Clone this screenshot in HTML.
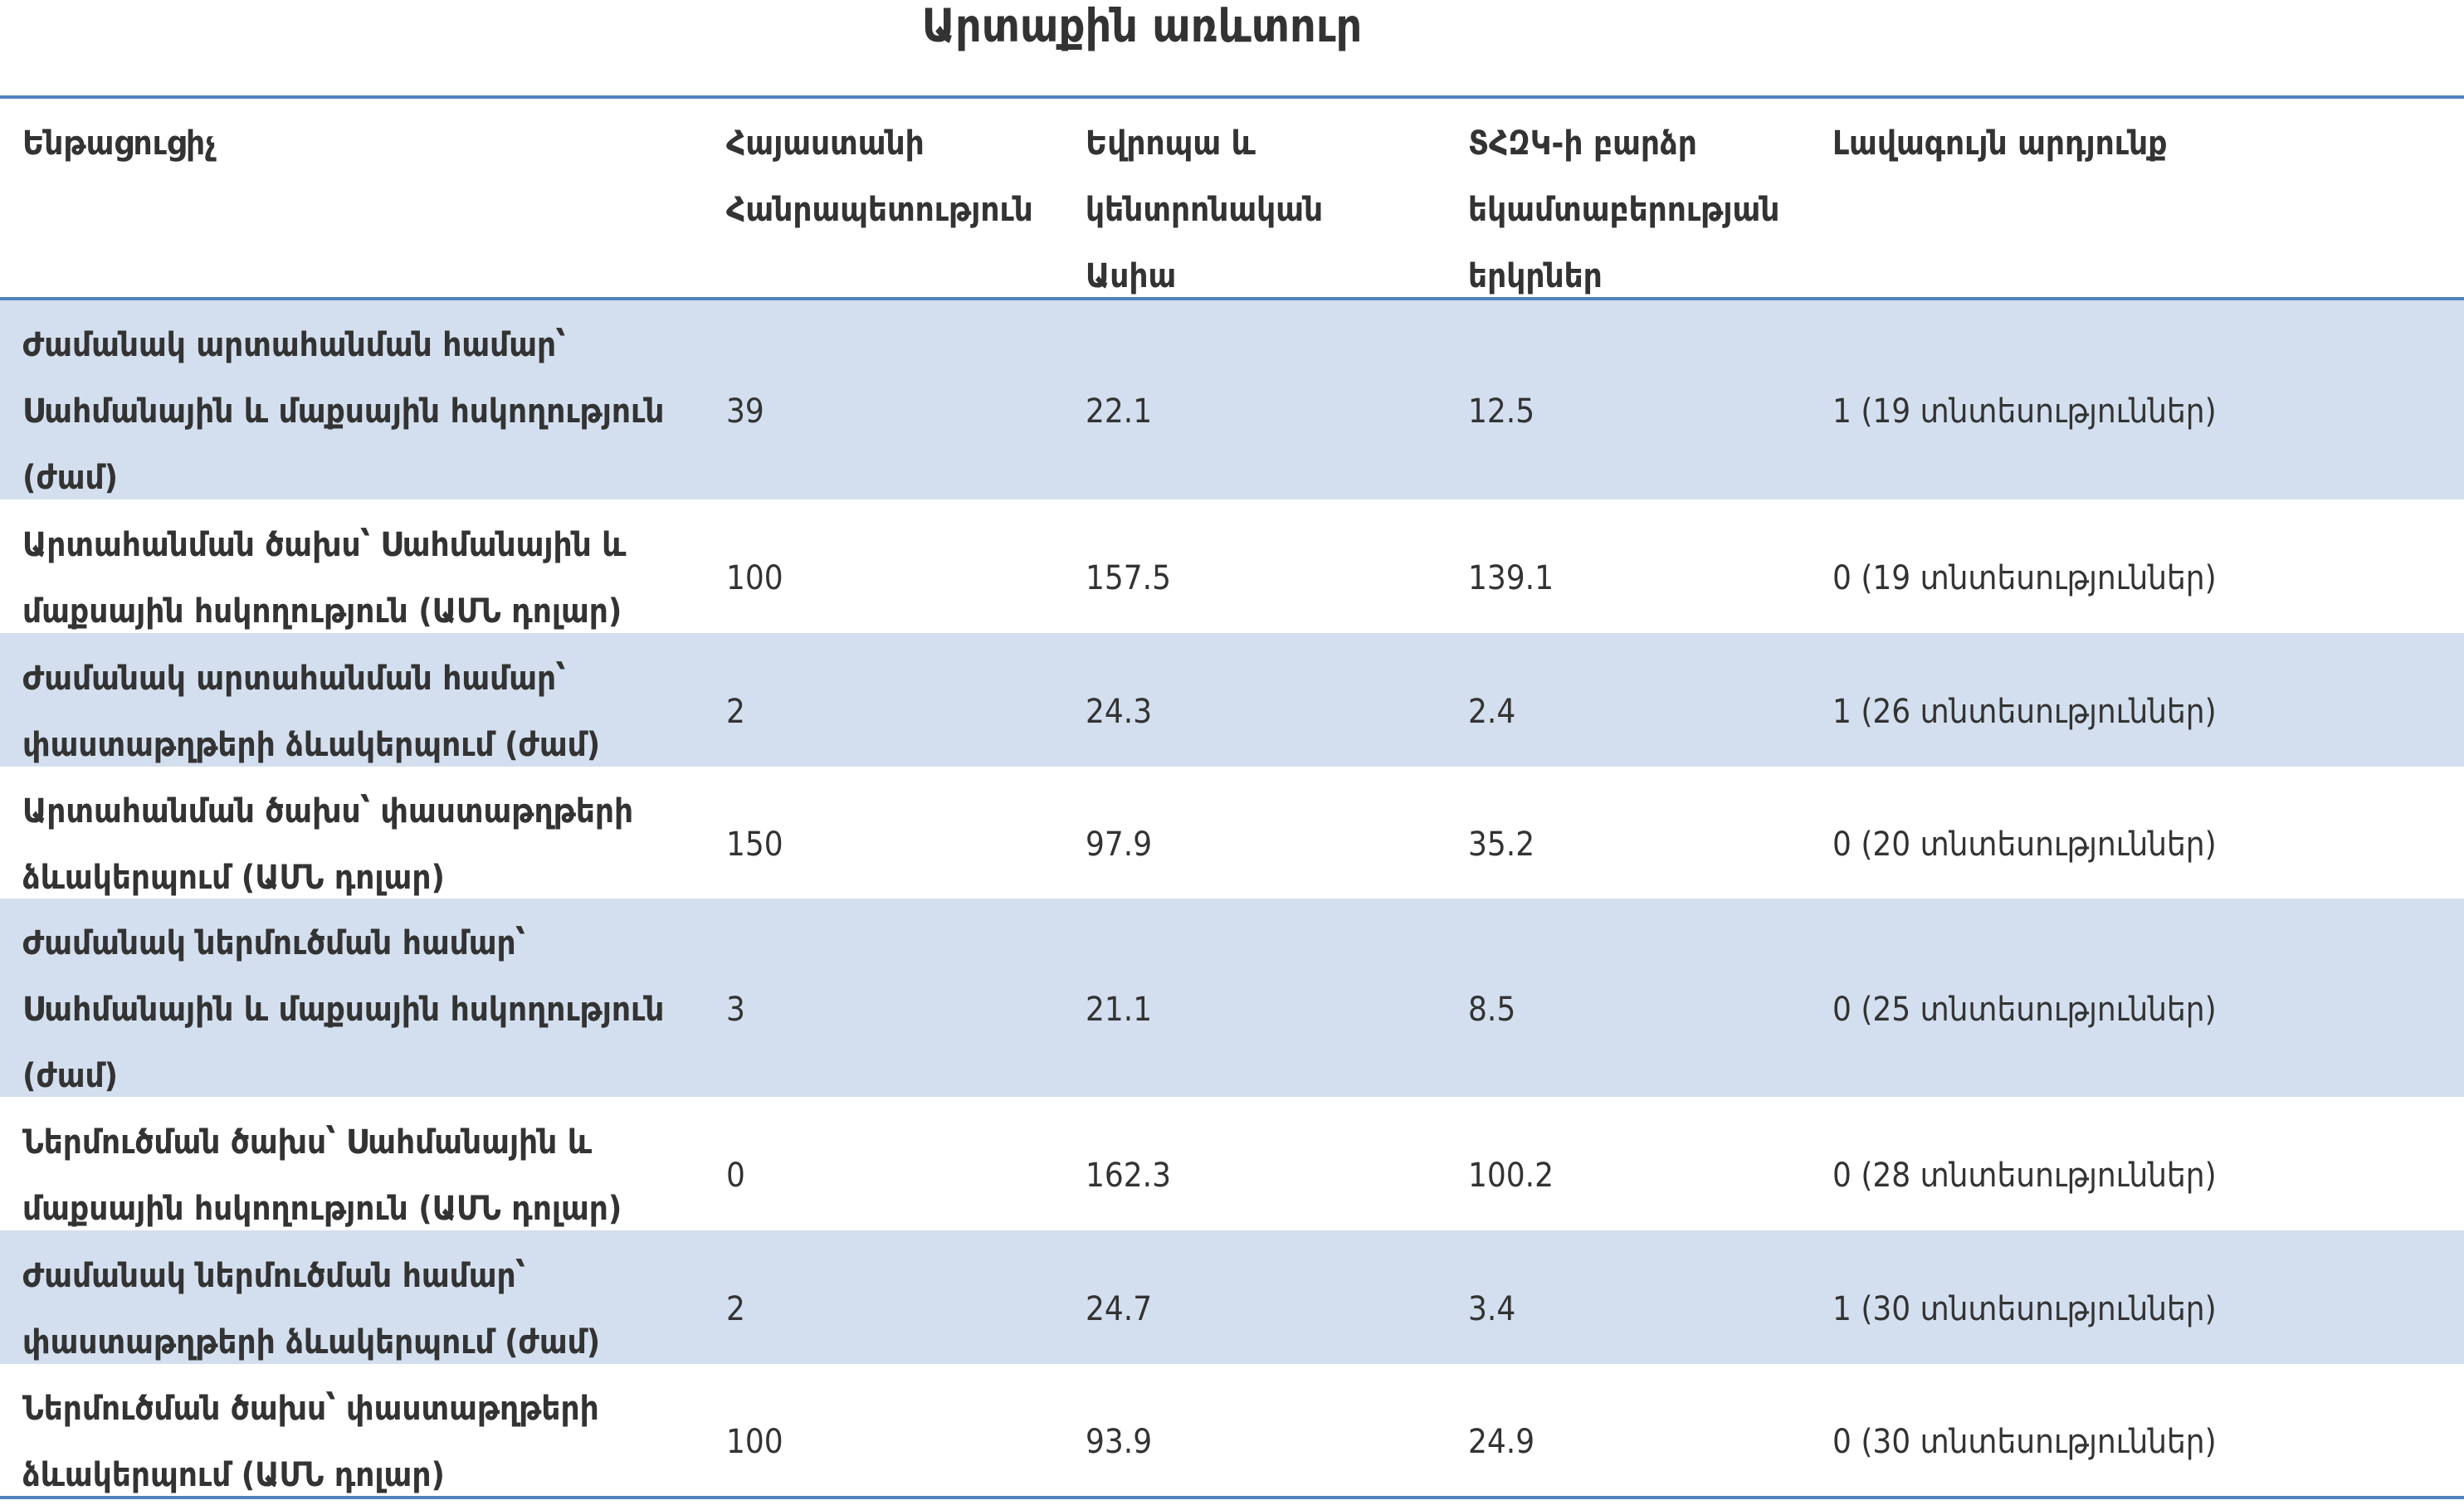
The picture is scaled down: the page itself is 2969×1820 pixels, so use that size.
<!DOCTYPE html>
<html><head><meta charset="utf-8"><style>
body{margin:0;width:2969px;height:1820px;background:#fff;position:relative;overflow:hidden;color:#333;}
.t{position:absolute;top:2px;left:0;width:2752px;text-align:center;font:bold 55px/58px "DejaVu Sans Condensed","DejaVu Sans",sans-serif;}
.ln{position:absolute;left:0;width:2969px;height:4px;background:#4F81BD;}
.row{position:absolute;left:0;width:2969px;}
.b{background:#D3DFEE;}
.c{position:absolute;top:14px;font:40px/80px "DejaVu Sans Condensed","Liberation Sans",sans-serif;}
.h{font-weight:bold;}
.v{display:flex;align-items:center;height:100%;}
</style></head><body>
<div class="t">Արտաքին առևտուր</div>
<div class="ln" style="top:115px"></div>
<div class="row" style="top:119px;height:241px">
<div class="c h" style="left:27px">Ենթացուցիչ</div>
<div class="c h" style="left:875px">Հայաստանի<br>Հանրապետություն</div>
<div class="c h" style="left:1308px">Եվրոպա և<br>կենտրոնական<br>Ասիա</div>
<div class="c h" style="left:1769px">ՏՀԶԿ-ի բարձր<br>եկամտաբերության<br>երկրներ</div>
<div class="c h" style="left:2208px">Լավագույն արդյունք</div>
</div>
<div class="ln" style="top:358px"></div>
<script>
var rows=[
["Ժամանակ արտահանման համար՝<br>Սահմանային և մաքսային հսկողություն<br>(ժամ)","39","22.1","12.5","1 (19 տնտեսություններ)",362,602],
["Արտահանման ծախս՝ Սահմանային և<br>մաքսային հսկողություն (ԱՄՆ դոլար)","100","157.5","139.1","0 (19 տնտեսություններ)",602,763],
["Ժամանակ արտահանման համար՝<br>փաստաթղթերի ձևակերպում (ժամ)","2","24.3","2.4","1 (26 տնտեսություններ)",763,924],
["Արտահանման ծախս՝ փաստաթղթերի<br>ձևակերպում (ԱՄՆ դոլար)","150","97.9","35.2","0 (20 տնտեսություններ)",924,1083],
["Ժամանակ ներմուծման համար՝<br>Սահմանային և մաքսային հսկողություն<br>(ժամ)","3","21.1","8.5","0 (25 տնտեսություններ)",1083,1322],
["Ներմուծման ծախս՝ Սահմանային և<br>մաքսային հսկողություն (ԱՄՆ դոլար)","0","162.3","100.2","0 (28 տնտեսություններ)",1322,1483],
["Ժամանակ ներմուծման համար՝<br>փաստաթղթերի ձևակերպում (ժամ)","2","24.7","3.4","1 (30 տնտեսություններ)",1483,1644],
["Ներմուծման ծախս՝ փաստաթղթերի<br>ձևակերպում (ԱՄՆ դոլար)","100","93.9","24.9","0 (30 տնտեսություններ)",1644,1804]];
var xs=[27,875,1308,1769,2208],h="";
rows.forEach(function(r,i){
h+='<div class="row'+(i%2==0?' b':'')+'" style="top:'+r[5]+'px;height:'+(r[6]-r[5])+'px">';
for(var j=0;j<5;j++)h+='<div class="c'+(j==0?' h':'')+'" style="left:'+xs[j]+'px;height:100%"><div class="v"><div>'+r[j]+'</div></div></div>';
h+='</div>';});
h+='<div class="ln" style="top:1803px"></div>';
document.write(h);
</script>
</body></html>
